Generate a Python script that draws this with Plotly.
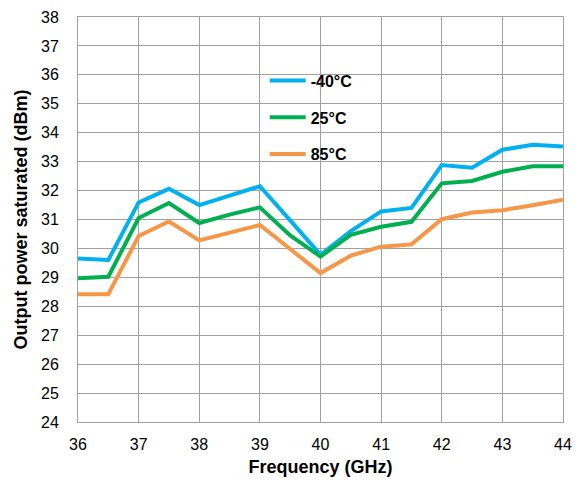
import plotly.graph_objects as go

freq = [36, 36.5, 37, 37.5, 38, 38.5, 39, 39.5, 40, 40.5, 41, 41.5, 42, 42.5, 43, 43.5, 44]
p_m40 = [29.65, 29.6, 31.59, 32.06, 31.5, 31.83, 32.15, 30.97, 29.78, 30.6, 31.28, 31.4, 32.88, 32.79, 33.41, 33.58, 33.52]
p_25 = [28.97, 29.02, 31.05, 31.57, 30.88, 31.17, 31.42, 30.45, 29.72, 30.47, 30.75, 30.92, 32.25, 32.33, 32.65, 32.84, 32.84]
p_85 = [28.42, 28.42, 30.43, 30.93, 30.28, 30.55, 30.81, 29.98, 29.15, 29.75, 30.06, 30.14, 31.01, 31.24, 31.32, 31.49, 31.68]
names = ["-40°C", "25°C", "85°C"]
colors = ["#00B0F0", "#00B050", "#F79646"]
x_ticks = [36, 37, 38, 39, 40, 41, 42, 43, 44]
y_ticks = list(range(24, 39))

fig = go.Figure()
for i, (name, ys) in enumerate(zip(names, [p_m40, p_25, p_85])):
    fig.add_trace(go.Scatter(x=freq, y=ys, mode="lines", name=name,
                             legendgroup=str(i),
                             line=dict(color=colors[i], width=4)))

font_family = "Liberation Sans, Arial, sans-serif"
fig.update_layout(
    width=581, height=486,
    margin=dict(l=78, r=9, t=13, b=64),
    paper_bgcolor="white", plot_bgcolor="white",
    font=dict(family=font_family, color="#000000", size=16),
    showlegend=True,
    legend=dict(x=0.385, y=0.885, xanchor="left", yanchor="top",
                bgcolor="rgba(0,0,0,0)", traceorder="grouped",
                tracegroupgap=13, itemwidth=36,
                font=dict(size=16, family=font_family, weight="bold")),
    xaxis=dict(range=[36, 44], tickvals=x_ticks, showgrid=True,
               gridcolor="#A0A0A0", gridwidth=1, showline=True,
               linecolor="#A0A0A0", linewidth=1, mirror=True,
               zeroline=False, ticks="", ticklabelstandoff=8,
               tickfont=dict(size=16),
               title=dict(text="<b>Frequency (GHz)</b>", font=dict(size=18), standoff=8)),
    yaxis=dict(range=[24, 38], tickvals=y_ticks, showgrid=True,
               gridcolor="#A0A0A0", gridwidth=1, showline=True,
               linecolor="#A0A0A0", linewidth=1, mirror=True,
               zeroline=False, ticks="", ticklabelstandoff=15,
               tickfont=dict(size=16),
               title=dict(text="<b>Output power saturated (dBm)</b>", font=dict(size=18), standoff=8)),
)
fig.write_html("out.html")
